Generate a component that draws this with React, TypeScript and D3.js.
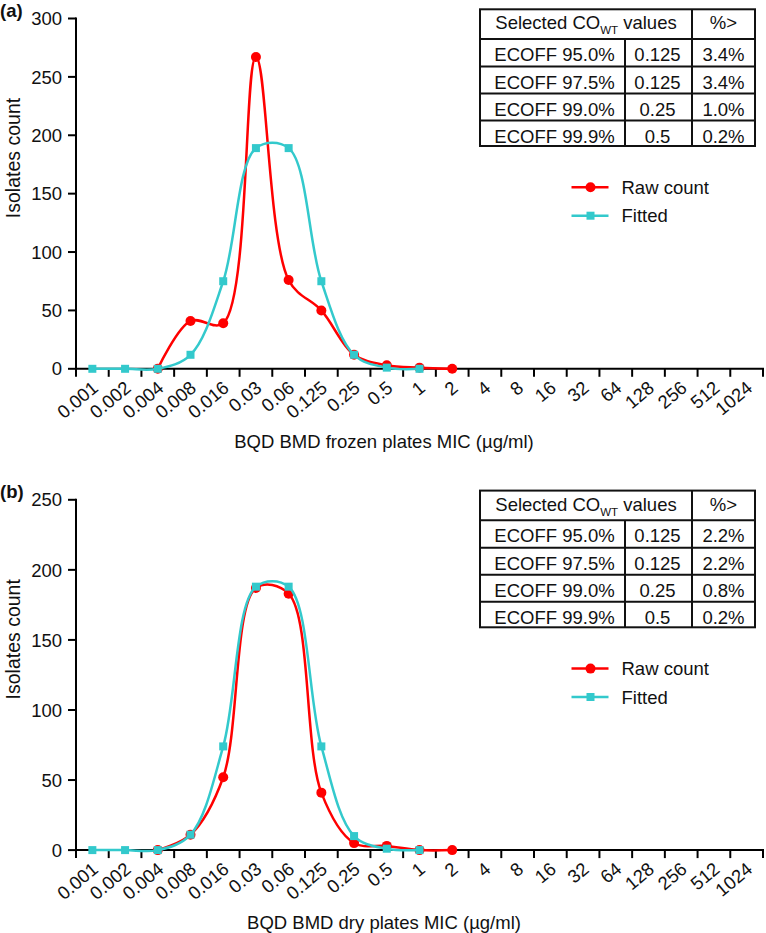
import React from "react";
import * as d3 from "d3";

const MIC = ["0.001","0.002","0.004","0.008","0.016","0.03","0.06","0.125","0.25","0.5","1","2","4","8","16","32","64","128","256","512","1024"];

const rawA: (number | null)[] = [null, null, 0, 41, 39, 267, 76, 50, 12, 3, 1, 0];
const fitA: (number | null)[] = [0, 0, 0, 12, 75, 189, 189, 75, 12, 1, 0];
const rawB: (number | null)[] = [null, null, 0, 11, 52, 187, 183, 41, 5, 3, 0, 0];
const fitB: (number | null)[] = [0, 0, 0, 11, 74, 188, 188, 74, 10, 1, 0];

const yTicksA = [0, 50, 100, 150, 200, 250, 300];
const yTicksB = [0, 50, 100, 150, 200, 250];

const ecoffLabels = ["ECOFF 95.0%", "ECOFF 97.5%", "ECOFF 99.0%", "ECOFF 99.9%"];
const ecoffValuesA = ["0.125", "0.125", "0.25", "0.5"];
const pctA = ["3.4%", "3.4%", "1.0%", "0.2%"];
const ecoffValuesB = ["0.125", "0.125", "0.25", "0.5"];
const pctB = ["2.2%", "2.2%", "0.8%", "0.2%"];

const seriesNames = ["Raw count", "Fitted"];

const RED = "#ff0000";
const CYAN = "#33c9cc";
const FONT = "'Liberation Sans', Arial, Helvetica, sans-serif";
const FS = 18.5;

type PanelProps = {
  oy: number;
  yMax: number;
  yTicks: number[];
  raw: (number | null)[];
  fit: (number | null)[];
  values: string[];
  pct: string[];
  label: string;
  xTitle: string;
};

function Panel({ oy, yMax, yTicks, raw, fit, values, pct, label, xTitle }: PanelProps) {
  const left = 76;
  const right = 763;
  const top = oy + 18.5;
  const axisY = oy + 368.8;
  const x = d3.scaleBand<string>().domain(MIC).range([left, right]).padding(0);
  const bw = x.bandwidth();
  const cx = (c: string) => (x(c) as number) + bw / 2;
  const y = d3.scaleLinear().domain([0, yMax]).range([axisY, top]);

  const toPts = (arr: (number | null)[]) =>
    arr
      .map((v, i) => (v === null || v === undefined ? null : ([cx(MIC[i]), y(v)] as [number, number])))
      .filter((p): p is [number, number] => p !== null);

  const line = d3.line<[number, number]>().curve(d3.curveCatmullRom.alpha(0.5));
  const rawPts = toPts(raw);
  const fitPts = toPts(fit);

  // table geometry
  const tx = [480, 625, 692, 755];
  const ty = [oy + 9.3, oy + 39, oy + 66.5, oy + 93.5, oy + 120.5, oy + 146];

  const legY = [oy + 187.3, oy + 215.7];

  return (
    <g fontFamily={FONT} fontSize={FS} fill="#111">
      <text x={0} y={oy + 17} fontWeight="bold" fontSize={18.5}>{label}</text>
      {/* y axis */}
      <line x1={left} x2={left} y1={top - 1} y2={axisY + 8} stroke="#000" strokeWidth={2} />
      {yTicks.map((t) => (
        <g key={t}>
          <line x1={left - 8} x2={left} y1={y(t)} y2={y(t)} stroke="#000" strokeWidth={2} />
          <text x={62} y={y(t)} dy="0.36em" textAnchor="end">{t}</text>
        </g>
      ))}
      <text transform={`translate(19.5, ${oy + 158}) rotate(-90)`} textAnchor="middle" fontSize={19.5}>Isolates count</text>
      {/* x axis */}
      <line x1={left} x2={right + 1} y1={axisY} y2={axisY} stroke="#000" strokeWidth={2} />
      {MIC.map((c, i) => (
        <line key={"t" + c} x1={left + (i + 1) * bw} x2={left + (i + 1) * bw} y1={axisY} y2={axisY + 8} stroke="#000" strokeWidth={2} />
      ))}
      {MIC.map((c) => (
        <text key={"l" + c} transform={`translate(${cx(c) + 7}, ${axisY + 21}) rotate(-40)`} textAnchor="end">{c}</text>
      ))}
      <text x={384} y={oy + 448} textAnchor="middle">{xTitle}</text>
      {/* series */}
      <path d={line(rawPts) || ""} fill="none" stroke={RED} strokeWidth={2.5} />
      {rawPts.map((p, i) => (
        <circle key={"r" + i} cx={p[0]} cy={p[1]} r={5} fill={RED} />
      ))}
      <path d={line(fitPts) || ""} fill="none" stroke={CYAN} strokeWidth={2.5} />
      {fitPts.map((p, i) => (
        <rect key={"f" + i} x={p[0] - 4} y={p[1] - 4} width={8} height={8} fill={CYAN} />
      ))}
      {/* legend */}
      {seriesNames.map((n, i) => (
        <g key={n}>
          <line x1={571.5} x2={608.5} y1={legY[i]} y2={legY[i]} stroke={i === 0 ? RED : CYAN} strokeWidth={2.5} />
          {i === 0 ? (
            <circle cx={590.5} cy={legY[i]} r={5} fill={RED} />
          ) : (
            <rect x={586.5} y={legY[i] - 4} width={8} height={8} fill={CYAN} />
          )}
          <text x={621.5} y={legY[i]} dy="0.36em">{n}</text>
        </g>
      ))}
      {/* table */}
      <rect x={tx[0]} y={ty[0]} width={tx[3] - tx[0]} height={ty[5] - ty[0]} fill="#fff" stroke="#111" strokeWidth={2} />
      {ty.slice(1, 5).map((yy, i) => (
        <line key={"h" + i} x1={tx[0]} x2={tx[3]} y1={yy} y2={yy} stroke="#111" strokeWidth={2} />
      ))}
      <line x1={tx[1]} x2={tx[1]} y1={ty[1]} y2={ty[5]} stroke="#111" strokeWidth={2} />
      <line x1={tx[2]} x2={tx[2]} y1={ty[0]} y2={ty[5]} stroke="#111" strokeWidth={2} />
      <text x={(tx[0] + tx[2]) / 2} y={ty[0] + 20} textAnchor="middle">
        Selected CO<tspan fontSize={11.5} dy={5}>WT</tspan><tspan dy={-5}> values</tspan>
      </text>
      <text x={(tx[2] + tx[3]) / 2} y={ty[0] + 20} textAnchor="middle">%&gt;</text>
      {ecoffLabels.map((lab, i) => {
        const base = ty[i + 1] + 22;
        return (
          <g key={lab}>
            <text x={(tx[0] + tx[1]) / 2 + 2} y={base} textAnchor="middle">{lab}</text>
            <text x={(tx[1] + tx[2]) / 2 - 1} y={base} textAnchor="middle">{values[i]}</text>
            <text x={(tx[2] + tx[3]) / 2} y={base} textAnchor="middle">{pct[i]}</text>
          </g>
        );
      })}
    </g>
  );
}

export default function App() {
  return (
    <svg width={766} height={933} style={{ position: "absolute", left: 0, top: 0, background: "#fff" }}>
      <rect width={766} height={933} fill="#fff" />
      <Panel oy={0} yMax={300} yTicks={yTicksA} raw={rawA} fit={fitA} values={ecoffValuesA} pct={pctA} label="(a)" xTitle="BQD BMD frozen plates MIC (µg/ml)" />
      <Panel oy={481.3} yMax={250} yTicks={yTicksB} raw={rawB} fit={fitB} values={ecoffValuesB} pct={pctB} label="(b)" xTitle="BQD BMD dry plates MIC (µg/ml)" />
    </svg>
  );
}
